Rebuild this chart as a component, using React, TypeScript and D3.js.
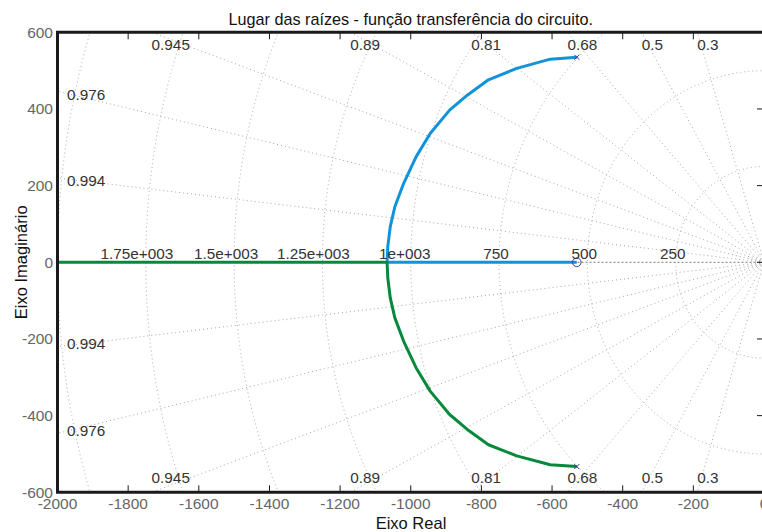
import React from 'react';
import * as d3 from 'd3';

// eixos e rótulos
const xTicks = [-2000, -1800, -1600, -1400, -1200, -1000, -800, -600, -400, -200, 0];
const yTicks = [-600, -400, -200, 0, 200, 400, 600];

// grade de amortecimento (sgrid)
const dampingValues = [0.3, 0.5, 0.68, 0.81, 0.89, 0.945, 0.976, 0.994];
const dampingLabels = ['0.3', '0.5', '0.68', '0.81', '0.89', '0.945', '0.976', '0.994'];

// grade de frequência natural
const freqValues = [250, 500, 750, 1000, 1250, 1500, 1750, 2000];
const freqLabels = ['250', '500', '750', '1e+003', '1.25e+003', '1.5e+003', '1.75e+003', ''];

// ramo 1 (azul): polo superior -> zero
const branch1Re = [-530, -605, -700, -780, -840, -890, -945, -985, -1020, -1045, -1058, -1065, -1067, -530];
const branch1Im = [535, 530, 506, 476, 436, 397, 336, 275, 206, 145, 93, 41, 0, 0];

// ramo 2 (verde): polo inferior -> -infinito
const branch2Re = [-530, -605, -700, -780, -840, -890, -945, -985, -1020, -1045, -1058, -1065, -1067, -2500];
const branch2Im = [-533, -528, -505, -476, -436, -397, -336, -275, -206, -145, -93, -41, 0, 0];

const polesRe = [-530, -530];
const polesIm = [535, -533];
const zerosRe = [-530];
const zerosIm = [0];

const W = 762;
const H = 532;
const left = 57.5, right = 764, top = 32.3, bottom = 492.3;
const font = '"Liberation Sans", Arial, Helvetica, sans-serif';

const App = () => {
  const x = d3.scaleLinear().domain([-2000, 0]).range([left, right]);
  const y = d3.scaleLinear().domain([-600, 600]).range([bottom, top]);

  const line = d3.line<[number, number]>()
    .x(d => x(d[0]))
    .y(d => y(d[1]));

  const b1 = branch1Re.map((r, i) => [r, branch1Im[i]] as [number, number]);
  const b2 = branch2Re.map((r, i) => [r, branch2Im[i]] as [number, number]);

  const gridStyle = { stroke: '#a6a6a6', strokeWidth: 1, strokeDasharray: '1 3', fill: 'none' };

  // posição dos rótulos de amortecimento na borda do gráfico
  const dampLabelPos = dampingValues.map((z, i) => {
    const t = Math.sqrt(1 - z * z) / z;
    if (t * 2000 > 600) {
      const xr = -600 / t;
      return { label: dampingLabels[i], side: 'top', px: x(xr) };
    }
    return { label: dampingLabels[i], side: 'left', yv: 2000 * t };
  });

  return (
    <svg width={W} height={H} style={{ position: 'absolute', left: 0, top: 0, background: '#fff' }}
      fontFamily={font}>
      <defs>
        <clipPath id="plot">
          <rect x={left} y={top} width={right - left} height={bottom - top} />
        </clipPath>
      </defs>

      <g clipPath="url(#plot)">
        {/* círculos de frequência natural */}
        {freqValues.map(w => (
          <ellipse key={'c' + w} cx={x(0)} cy={y(0)} rx={x(0) - x(-w)} ry={y(0) - y(w)} style={gridStyle} />
        ))}
        {/* linhas de amortecimento */}
        {dampingValues.map(z => {
          const s = Math.sqrt(1 - z * z);
          return (
            <g key={'z' + z}>
              <line x1={x(0)} y1={y(0)} x2={x(-5000 * z)} y2={y(5000 * s)} style={gridStyle} />
              <line x1={x(0)} y1={y(0)} x2={x(-5000 * z)} y2={y(-5000 * s)} style={gridStyle} />
            </g>
          );
        })}
        <line x1={x(-2000)} y1={y(0)} x2={x(0)} y2={y(0)} stroke="#7a7a7a" strokeWidth={1} strokeDasharray="2 2" />

        {/* lugar das raízes */}
        <path d={line(b1) || ''} fill="none" stroke="#1193da" strokeWidth={3} strokeLinejoin="round" />
        <path d={line(b2) || ''} fill="none" stroke="#06893b" strokeWidth={3} strokeLinejoin="round" />

        {polesRe.map((r, i) => {
          const cx = x(r), cy = y(polesIm[i]);
          return (
            <g key={'p' + i} stroke="#3a3aa0" strokeWidth={1}>
              <line x1={cx - 2.5} y1={cy - 2.5} x2={cx + 2.5} y2={cy + 2.5} />
              <line x1={cx - 2.5} y1={cy + 2.5} x2={cx + 2.5} y2={cy - 2.5} />
            </g>
          );
        })}
        {zerosRe.map((r, i) => (
          <circle key={'zr' + i} cx={x(r)} cy={y(zerosIm[i])} r={4.3} fill="none" stroke="#3a3aa0" strokeWidth={1} />
        ))}
      </g>

      {/* rótulos da grade */}
      <g fill="#333" fontSize={15.3}>
        {dampLabelPos.map(d => d.side === 'top' ? (
          <g key={'dl' + d.label}>
            <text x={d.px} y={50}>{d.label}</text>
            <text x={d.px} y={483}>{d.label}</text>
          </g>
        ) : (
          <g key={'dl' + d.label}>
            <text x={67} y={y(d.yv!) + 3} dy="0.35em">{d.label}</text>
            <text x={67} y={y(-d.yv!) - 3} dy="0.35em">{d.label}</text>
          </g>
        ))}
        {freqValues.map((w, i) => freqLabels[i] ? (
          <text key={'fl' + w} x={x(-w) - freqLabels[i].length} y={259} textAnchor="middle">{freqLabels[i]}</text>
        ) : null)}
      </g>

      {/* eixos */}
      <g stroke="#1a1a1a" strokeWidth={1}>
        {xTicks.map(t => (
          <g key={'xt' + t}>
            <line x1={x(t)} x2={x(t)} y1={top} y2={top + 7} />
            <line x1={x(t)} x2={x(t)} y1={bottom} y2={bottom - 7} />
          </g>
        ))}
        {yTicks.map(t => (
          <line key={'yt' + t} x1={right} x2={right - 7} y1={y(t)} y2={y(t)} />
        ))}
      </g>
      <path d={`M${left},${bottom}V${top}H${right}`} fill="none" stroke="#1a1a1a" strokeWidth={3} />
      <line x1={left - 1.5} x2={right} y1={bottom} y2={bottom} stroke="#1a1a1a" strokeWidth={3} />

      <g fill="#666" fontSize={15.5}>
        {xTicks.map(t => (
          <text key={'xl' + t} x={x(t)} y={509} textAnchor="middle">{t}</text>
        ))}
        {yTicks.map(t => (
          <text key={'yl' + t} x={53} y={y(t)} dy="0.35em" textAnchor="end">{t}</text>
        ))}
      </g>

      <text x={(left + right) / 2} y={25} textAnchor="middle" fontSize={16.2} fill="#111">
        Lugar das raízes - função transferência do circuito.
      </text>
      <text x={411} y={529} textAnchor="middle" fontSize={16.5} fill="#111">Eixo Real</text>
      <text transform={`translate(27,${y(0)}) rotate(-90)`} textAnchor="middle" fontSize={16.5} fill="#111">
        Eixo Imaginário
      </text>
    </svg>
  );
};

export default App;
